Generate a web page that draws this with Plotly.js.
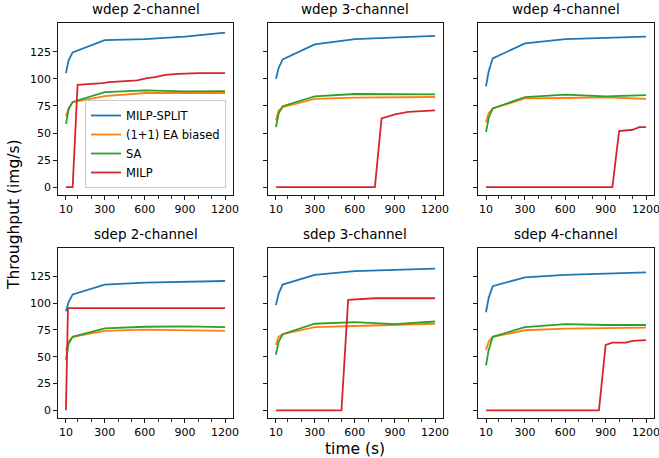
<!DOCTYPE html>
<html>
<head>
<meta charset="utf-8">
<script src="https://cdn.plot.ly/plotly-3.0.1.min.js"></script>
<style>html,body{margin:0;padding:0;background:#fff;}#chart{width:659px;height:458px;}</style>
</head>
<body>
<div id="chart"></div>
<script>
// ---- data ----
const seriesNames = ["MILP-SPLIT", "(1+1) EA biased", "SA", "MILP"];
const seriesColors = ["#1f77b4", "#ff7f0e", "#2ca02c", "#d62728"];
const panelTitles = ["wdep 2-channel", "wdep 3-channel", "wdep 4-channel",
                     "sdep 2-channel", "sdep 3-channel", "sdep 4-channel"];
const heurTime = [10, 30, 60, 300, 600, 900, 1200];

// wdep 2-channel
const w2_split = [105.2, 117, 124.4, 135.7, 136.6, 139.0, 142.7];
const w2_ea    = [65.5, 72.6, 78.4, 84.1, 86.9, 86.9, 86.9];
const w2_sa    = [58.5, 72, 78.7, 87.8, 89.3, 88.4, 88.7];
const w2_milpT = [10, 60, 97, 195, 283, 332, 456, 543, 617, 679, 753, 852, 1000, 1200];
const w2_milp  = [0, 0, 94.5, 95.1, 96.0, 96.9, 98.2, 98.5, 100.6, 101.5, 103.7, 104.6, 105.2, 105.2];
// wdep 3-channel
const w3_split = [100.0, 110, 118.0, 131.7, 136.6, 138.0, 139.6];
const w3_ea    = [61.6, 70.7, 73.8, 81.4, 82.6, 82.9, 83.2];
const w3_sa    = [55.5, 68, 74.7, 83.8, 86.0, 85.7, 85.7];
const w3_milpT = [10, 750, 800, 900, 1000, 1200];
const w3_milp  = [0, 0, 63.5, 67.1, 69.5, 70.8];
// wdep 4-channel
const w4_split = [93.0, 107, 118.9, 132.6, 136.6, 137.8, 139.0];
const w4_ea    = [60.0, 68.6, 72.6, 82.0, 82.3, 83.0, 81.4];
const w4_sa    = [50.9, 64, 72.6, 83.2, 85.4, 83.8, 85.0];
const w4_milpT = [10, 950, 1000, 1100, 1150, 1200];
const w4_milp  = [0, 0, 51.8, 53.0, 55.5, 55.5];
// sdep 2-channel
const s2_split = [92.4, 101, 108.2, 117.4, 119.2, 120.0, 120.7];
const s2_ea    = [55.8, 64, 68.6, 74.1, 75.3, 74.7, 74.1];
const s2_sa    = [47.3, 62, 68.6, 76.5, 78.0, 78.4, 77.7];
const s2_milpT = [10, 25, 1200];
const s2_milp  = [0, 95.4, 95.4];
// sdep 3-channel
const s3_split = [98.2, 109, 117.4, 126.5, 129.9, 131.3, 132.3];
const s3_ea    = [61.0, 68.6, 71.0, 77.7, 78.7, 79.6, 80.8];
const s3_sa    = [51.8, 64, 71.0, 80.8, 82.3, 80.5, 82.9];
const s3_milpT = [10, 500, 550, 750, 1200];
const s3_milp  = [0, 0, 103.0, 104.6, 104.6];
// sdep 4-channel
const s4_split = [91.5, 105, 115.9, 124.1, 126.5, 127.7, 128.7];
const s4_ea    = [56.4, 64.0, 68.6, 74.7, 76.2, 76.7, 77.1];
const s4_sa    = [41.8, 56.4, 68.6, 77.7, 80.5, 79.6, 79.6];
const s4_milpT = [10, 850, 900, 950, 1050, 1100, 1200];
const s4_milp  = [0, 0, 61.0, 63.1, 63.1, 64.9, 65.5];

const xTickVals = [10, 300, 600, 900, 1200];
const xMinorVals = [100, 200, 400, 500, 700, 800, 1000, 1100];
const yTickVals = [0, 25, 50, 75, 100, 125];

const panels = [
  [w2_split, w2_ea, w2_sa, w2_milpT, w2_milp],
  [w3_split, w3_ea, w3_sa, w3_milpT, w3_milp],
  [w4_split, w4_ea, w4_sa, w4_milpT, w4_milp],
  [s2_split, s2_ea, s2_sa, s2_milpT, s2_milp],
  [s3_split, s3_ea, s3_sa, s3_milpT, s3_milp],
  [s4_split, s4_ea, s4_sa, s4_milpT, s4_milp]
];

// ---- layout geometry (pixels) ----
const W = 659, H = 458;
const colPx = [[58, 233], [268, 443], [478, 654]];
const rowPx = [[23, 195], [248, 418]];

const traces = [];
const layout = {
  width: W, height: H,
  margin: {l: 0, r: 0, t: 0, b: 0},
  paper_bgcolor: "#fff", plot_bgcolor: "#fff",
  font: {family: "DejaVu Sans", size: 11, color: "#000"},
  showlegend: true,
  legend: {
    x: 226 / W, xanchor: "right", y: 1 - 188 / H, yanchor: "bottom",
    bgcolor: "rgba(255,255,255,0.85)", bordercolor: "#cccccc", borderwidth: 1,
    font: {family: "DejaVu Sans", size: 11.5, color: "#000"},
    tracegroupgap: 0, itemwidth: 30
  },
  annotations: []
};

panels.forEach((p, i) => {
  const r = Math.floor(i / 3), c = i % 3;
  const idx = i === 0 ? "" : String(i + 1);
  const xa = "x" + idx, ya = "y" + idx;
  const ys = [p[0], p[1], p[2]];
  ys.forEach((yv, k) => {
    traces.push({
      x: heurTime, y: yv, xaxis: xa, yaxis: ya, type: "scatter", mode: "lines",
      name: seriesNames[k], legendgroup: seriesNames[k], showlegend: i === 0,
      line: {color: seriesColors[k], width: 1.8}
    });
  });
  traces.push({
    x: p[3], y: p[4], xaxis: xa, yaxis: ya, type: "scatter", mode: "lines",
    name: seriesNames[3], legendgroup: seriesNames[3], showlegend: i === 0,
    line: {color: seriesColors[3], width: 1.8}
  });
  const common = {
    showgrid: false, zeroline: false, showline: true, linecolor: "#000", linewidth: 0.9,
    mirror: true, ticks: "outside", ticklen: 4, tickwidth: 0.9, tickcolor: "#000",
    tickfont: {family: "DejaVu Sans", size: 11, color: "#000"},
    ticklabeloverflow: "allow"
  };
  layout["xaxis" + idx] = Object.assign({}, common, {
    domain: [colPx[c][0] / W, colPx[c][1] / W],
    anchor: ya, range: [-49.5, 1259.5],
    tickmode: "array", tickvals: xTickVals, ticktext: xTickVals.map(String),
    minor: {tickmode: "array", tickvals: xMinorVals, ticks: "outside", ticklen: 3, tickwidth: 0.8, tickcolor: "#000", showgrid: false}
  });
  layout["yaxis" + idx] = Object.assign({}, common, {
    domain: [1 - rowPx[r][1] / H, 1 - rowPx[r][0] / H],
    anchor: xa, range: [-7.2, 151.5],
    tickmode: "array", tickvals: yTickVals, ticktext: yTickVals.map(String),
    showticklabels: c === 0
  });
  layout.annotations.push({
    text: panelTitles[i], xref: "paper", yref: "paper",
    x: (colPx[c][0] + colPx[c][1]) / 2 / W, y: 1 - (rowPx[r][0] - 4) / H,
    xanchor: "center", yanchor: "bottom", showarrow: false,
    font: {family: "DejaVu Sans", size: 13.5, color: "#000"}
  });
});

layout.annotations.push({
  text: "time (s)", xref: "paper", yref: "paper", x: 355 / W, y: 1 - 449 / H,
  xanchor: "center", yanchor: "middle", showarrow: false,
  font: {family: "DejaVu Sans", size: 15.5, color: "#000"}
});
layout.annotations.push({
  text: "Throughput (img/s)", xref: "paper", yref: "paper", x: 14 / W, y: 1 - 215 / H,
  xanchor: "center", yanchor: "middle", showarrow: false, textangle: -90,
  font: {family: "DejaVu Sans", size: 15.5, color: "#000"}
});

Plotly.newPlot("chart", traces, layout, {staticPlot: true, displayModeBar: false});
</script>
</body>
</html>
